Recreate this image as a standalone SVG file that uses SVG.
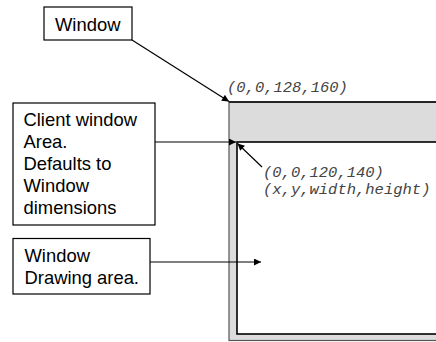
<svg xmlns="http://www.w3.org/2000/svg" width="436" height="342" viewBox="0 0 436 342">
  <style>
    .box { fill: #ffffff; stroke: #000000; stroke-width: 1.2; }
    .label { font-family: "Liberation Sans", Arial, sans-serif; font-size: 18.4px; fill: #000000; }
    .coord { font-family: "Liberation Mono", "Courier New", monospace; font-style: italic; font-size: 15.5px; fill: #444444; }
    .link { stroke: #000000; stroke-width: 1.2; fill: none; marker-end: url(#arrow); }
  </style>
  <defs>
    <marker id="arrow" viewBox="0 0 10 10" refX="10" refY="5" markerWidth="8" markerHeight="7" markerUnits="userSpaceOnUse" orient="auto">
      <path d="M0,0 L10,5 L0,10 Z" fill="#000000"/>
    </marker>
  </defs>
  <rect width="436" height="342" fill="#ffffff"/>

  <!-- window frame: grey border and title strip, white client area inside -->
  <g id="window-frame">
    <rect x="229" y="102" width="220" height="238.5" fill="#dcdcdc" stroke="#555555" stroke-width="1.2"/>
    <line x1="229" y1="102" x2="436" y2="102" stroke="#000000" stroke-width="1.4"/>
    <rect x="237" y="142" width="220" height="192" fill="#ffffff" stroke="#000000" stroke-width="1.6"/>
    <text class="coord" x="227" y="92">(0,0,128,160)</text>
    <text class="coord" x="263" y="177">(0,0,120,140)</text>
    <text class="coord" x="263" y="194">(x,y,width,height)</text>
  </g>

  <g id="window">
    <rect class="box" x="44" y="7" width="88" height="33"/>
    <text class="label" x="55" y="30.5">Window</text>
  </g>

  <g id="client-window">
    <rect class="box" x="13" y="103" width="142" height="122"/>
    <text class="label" x="23.5" y="126">Client window</text>
    <text class="label" x="23.5" y="148">Area.</text>
    <text class="label" x="23.5" y="170">Defaults to</text>
    <text class="label" x="23.5" y="192">Window</text>
    <text class="label" x="23.5" y="214">dimensions</text>
  </g>

  <g id="drawing-area">
    <rect class="box" x="13" y="238.5" width="137" height="55.5"/>
    <text class="label" x="24.5" y="261.5">Window</text>
    <text class="label" x="24.5" y="284">Drawing area.</text>
  </g>

  <g id="connectors">
    <line class="link" x1="132" y1="40" x2="229" y2="101.5"/>
    <line class="link" x1="155" y1="142" x2="236" y2="142"/>
    <line class="link" x1="262" y1="167" x2="237.5" y2="143.5"/>
    <line class="link" x1="150" y1="262" x2="261" y2="262"/>
  </g>
</svg>
